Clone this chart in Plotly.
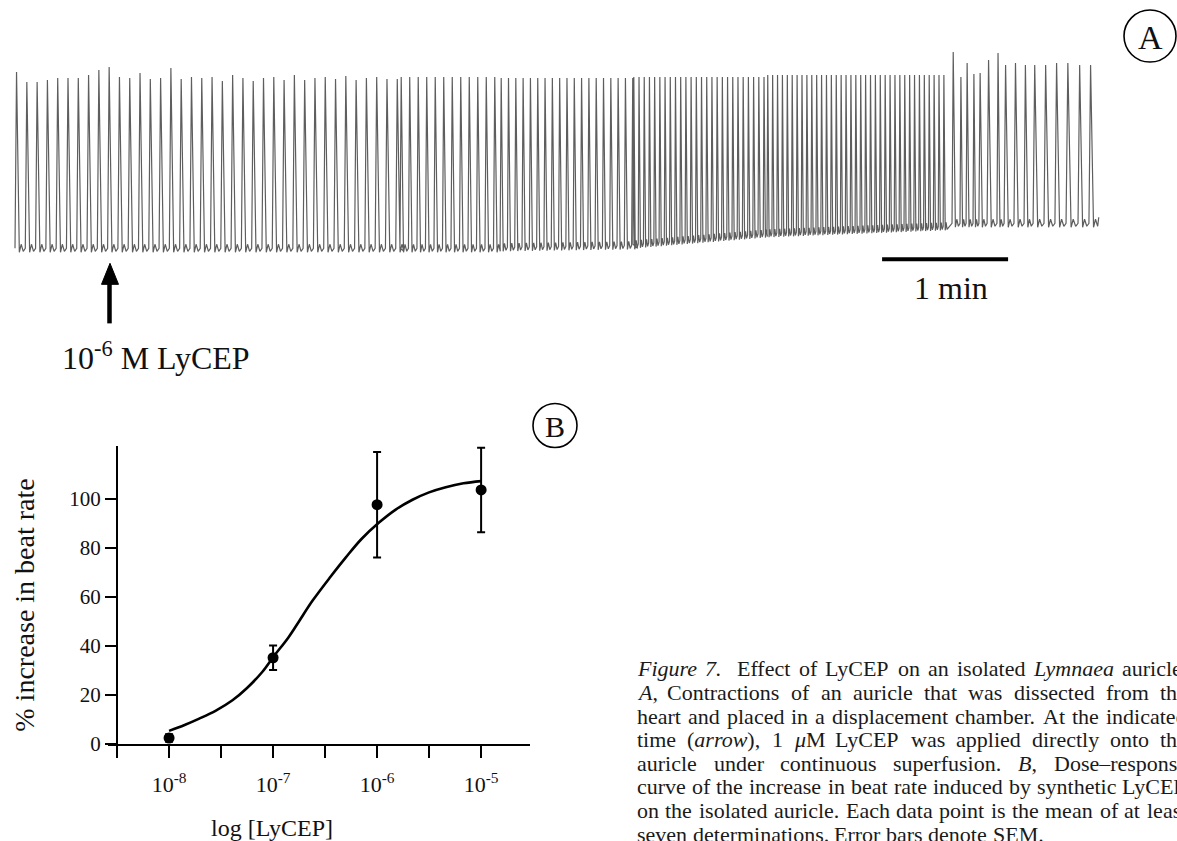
import plotly.graph_objects as go

W, H = 1177, 841
FONT = "Liberation Serif"


def px(x):
    return x / W


def py(y):
    return (H - y) / H


# ---------------- Panel A: recorded contractions ----------------
# regular-rhythm sections (time in s from start of record, level in arbitrary units)
sec_start_s = [0.0, 183.3, 231.0, 294.3, 358.1]
sec_end_s = [183.3, 231.0, 294.3, 358.1, 442.9]
sec_interval_s = [4.90, 4.05, 3.48, 2.48, 2.33]
sec_peak = [None, 193, 192, 193, 195]
sec_trough_start = [18, 18, 19, 22, 33]
sec_trough_end = [18, 18, 21, 33, 40]
# individual peak heights read for the first section
first_peaks = [198, 188, 188, 190, 192, 192, 192, 195, 200, 203, 193, 192, 197, 191,
               192, 202, 191, 193, 192, 193, 189, 195, 192, 189, 192, 193, 190, 195,
               190, 192, 193, 191, 194, 190, 192, 193, 191]
# late, slowing beats read individually
late_beat_s = [446.2, 450.0, 452.9, 456.2, 459.0, 462.9, 467.6, 471.0, 475.7, 480.5,
               484.8, 490.0, 495.2, 500.5, 506.2, 511.4]
late_peak = [218, 193, 207, 196, 197, 210, 217, 205, 207, 205, 205, 205, 207, 207, 205, 205]
late_trough = 43
scale_bar_s = [412.9, 472.9]   # 1 min
scale_bar_level = 11
drug_time_s = 45.0

# ---------------- Panel B: dose-response ----------------
dose_M = [1e-8, 1e-7, 1e-6, 1e-5]
mean_increase = [2.4, 35.1, 97.5, 103.5]
sem = [1.5, 5.0, 21.5, 17.2]
fit_M = [1.0e-8, 1.41e-8, 1.95e-8, 2.82e-8, 4.07e-8, 5.62e-8, 7.94e-8, 1.02e-7, 1.41e-7,
         1.78e-7, 2.40e-7, 3.55e-7, 5.01e-7, 7.08e-7, 1.05e-6, 1.51e-6, 2.19e-6, 3.16e-6,
         4.57e-6, 6.76e-6, 1.0e-5]
fit_val = [5.3, 7.7, 10.3, 13.6, 17.8, 22.8, 29.5, 35.8, 43.5, 50.0, 58.4, 68.0, 76.0,
           83.5, 90.3, 95.5, 99.5, 102.5, 104.6, 106.2, 107.1]
x_tickvals = [1e-8, 1e-7, 1e-6, 1e-5]
x_ticktext = ["10<sup>-8</sup>", "10<sup>-7</sup>", "10<sup>-6</sup>", "10<sup>-5</sup>"]
x_minor_tickvals = [10 ** -8.5, 10 ** -7.5, 10 ** -6.5, 10 ** -5.5]
y_tickvals = [0, 20, 40, 60, 80, 100]

caption_lines = [
    "*Figure 7.*  Effect of LyCEP on an isolated *Lymnaea* auricle.",
    "*A*, Contractions of an auricle that was dissected from the",
    "heart and placed in a displacement chamber. At the indicated",
    "time (*arrow*), 1 *μ*M LyCEP was applied directly onto the",
    "auricle under continuous superfusion. *B*, Dose–response",
    "curve of the increase in beat rate induced by synthetic LyCEP",
    "on the isolated auricle. Each data point is the mean of at least",
    "seven determinations. Error bars denote SEM.",
]

# ---------- build the contraction trace ----------
tx, ty = [], []
shape_pts = [(0.0, 4), (0.15, None), (0.42, 0), (0.6, 8), (0.8, 1)]


def add_beat(t0, interval, peak, trough):
    for f, dv in shape_pts:
        tx.append(t0 + f * interval)
        ty.append(peak if dv is None else trough + dv)


for s in range(len(sec_start_s)):
    t0 = sec_start_s[s]
    k = 0
    span = sec_end_s[s] - sec_start_s[s]
    while t0 < sec_end_s[s] - 1e-6:
        frac = (t0 - sec_start_s[s]) / span
        trough = sec_trough_start[s] + frac * (sec_trough_end[s] - sec_trough_start[s])
        if sec_peak[s] is None:
            peak = first_peaks[k] if k < len(first_peaks) else first_peaks[-1]
        else:
            peak = sec_peak[s]
        add_beat(t0, sec_interval_s[s], peak, trough)
        t0 += sec_interval_s[s]
        k += 1

for i, t0 in enumerate(late_beat_s):
    interval = (late_beat_s[i + 1] - t0) if i + 1 < len(late_beat_s) else (t0 - late_beat_s[i - 1])
    add_beat(t0, interval, late_peak[i], late_trough)
tx.append(late_beat_s[-1] + 0.9 * (late_beat_s[-1] - late_beat_s[-2]))
ty.append(late_trough + 10)

fig = go.Figure()

fig.add_trace(go.Scatter(x=tx, y=ty, mode="lines", line=dict(color="#5e5e5e", width=1.2),
                         hoverinfo="skip", showlegend=False, xaxis="x", yaxis="y"))

# panel B
fig.add_trace(go.Scatter(x=fit_M, y=fit_val, mode="lines", line=dict(color="black", width=2.6, shape="spline"),
                         showlegend=False, xaxis="x2", yaxis="y2"))
fig.add_trace(go.Scatter(x=dose_M, y=mean_increase, mode="markers",
                         marker=dict(color="black", size=11),
                         error_y=dict(type="data", array=sem, color="black", thickness=2, width=4),
                         showlegend=False, xaxis="x2", yaxis="y2"))

# ---------- caption (justified, word by word) ----------
ROMAN = {' ': 250, '%': 833, '(': 333, ')': 333, ',': 250, '-': 333, '.': 250, '[': 333, ']': 333,
         '–': 500, 'μ': 576,
         'A': 722, 'B': 667, 'C': 667, 'D': 722, 'E': 611, 'F': 556, 'G': 722, 'H': 722, 'I': 333,
         'J': 389, 'K': 722, 'L': 611, 'M': 889, 'N': 722, 'O': 722, 'P': 556, 'Q': 722, 'R': 667,
         'S': 556, 'T': 611, 'U': 722, 'V': 722, 'W': 944, 'X': 722, 'Y': 722, 'Z': 611,
         'a': 444, 'b': 500, 'c': 444, 'd': 500, 'e': 444, 'f': 333, 'g': 500, 'h': 500, 'i': 278,
         'j': 278, 'k': 500, 'l': 278, 'm': 778, 'n': 500, 'o': 500, 'p': 500, 'q': 500, 'r': 333,
         's': 389, 't': 278, 'u': 500, 'v': 500, 'w': 722, 'x': 500, 'y': 500, 'z': 444}
for d in "0123456789":
    ROMAN[d] = 500
ITALIC = dict(ROMAN)
ITALIC.update({'A': 611, 'B': 611, 'F': 611, 'L': 556, 'a': 500, 'r': 389, 'w': 667, 'y': 444,
               'm': 722, 'μ': 500})

CAP_SIZE = 22
CAP_LEFT, CAP_RIGHT = 636, 1186
CAP_Y0, CAP_DY = 668, 23.6

annotations = []
for li, line in enumerate(caption_lines):
    italic = False
    words, cur = [], []
    for ch in line:
        if ch == '*':
            italic = not italic
        elif ch == ' ':
            words.append(cur)
            cur = []
        else:
            cur.append((ch, italic))
    words.append(cur)
    items, weights, pending = [], [], 0
    for w in words:
        if not w:
            pending += 1
            continue
        if items:
            weights.append(1 + pending)
        pending = 0
        items.append(w)
    widths = [sum((ITALIC if it else ROMAN).get(c, 500) for c, it in w) * CAP_SIZE / 1000 for w in items]
    if li < len(caption_lines) - 1:
        unit = (CAP_RIGHT - CAP_LEFT - sum(widths)) / sum(weights)
    else:
        unit = 250 * CAP_SIZE / 1000
    xpos = CAP_LEFT
    for wi, w in enumerate(items):
        html = ""
        for c, it in w:
            html += f"<i>{c}</i>" if it else c
        html = html.replace("</i><i>", "")
        annotations.append(dict(text=html, x=px(xpos), y=py(CAP_Y0 + li * CAP_DY), xref="paper", yref="paper",
                                xanchor="left", yanchor="middle", showarrow=False, borderpad=0,
                                font=dict(family=FONT, size=CAP_SIZE, color="#1a1a1a")))
        xpos += widths[wi]
        if wi < len(weights):
            xpos += unit * weights[wi]

# other texts
others = [
    dict(text="10<sup>-6</sup> M LyCEP", x=px(60), y=py(356), xanchor="left", yanchor="middle",
         font=dict(family=FONT, size=32, color="#111")),
    dict(text="1 min", x=px(951), y=py(288), xanchor="center", yanchor="middle",
         font=dict(family=FONT, size=32, color="#111")),
    dict(text="A", x=px(1150), y=py(37), xanchor="center", yanchor="middle",
         font=dict(family=FONT, size=34, color="#111")),
    dict(text="B", x=px(555), y=py(426), xanchor="center", yanchor="middle",
         font=dict(family=FONT, size=30, color="#111")),
    dict(text="% increase in beat rate", x=px(25), y=py(605), textangle=-90, xanchor="center", yanchor="middle",
         font=dict(family=FONT, size=28, color="#111")),
    dict(text="log [LyCEP]", x=px(272), y=py(827), xanchor="center", yanchor="middle",
         font=dict(family=FONT, size=24, color="#111")),
]
for a in others:
    a.update(xref="paper", yref="paper", showarrow=False)
annotations += others

shapes = [
    # scale bar (1 min)
    dict(type="line", xref="x", yref="y", x0=scale_bar_s[0], x1=scale_bar_s[1],
         y0=scale_bar_level, y1=scale_bar_level, line=dict(color="black", width=4)),
    # arrow shaft and head marking drug application
    dict(type="line", xref="x", yref="paper", x0=drug_time_s, x1=drug_time_s, y0=py(323), y1=py(280),
         line=dict(color="black", width=4.5)),
    dict(type="path", xref="paper", yref="paper",
         path=f"M {px(101.5)} {py(284)} L {px(118.5)} {py(284)} L {px(110)} {py(263)} Z",
         fillcolor="black", line=dict(color="black", width=1)),
    # panel labels in circles
    dict(type="circle", xref="paper", yref="paper", x0=px(1124), x1=px(1176), y0=py(62), y1=py(10),
         line=dict(color="black", width=1.6)),
    dict(type="circle", xref="paper", yref="paper", x0=px(533), x1=px(577), y0=py(447), y1=py(403),
         line=dict(color="black", width=1.6)),
]

fig.update_layout(
    width=W - 16, height=H - 16, margin=dict(l=0, r=0, t=0, b=0),
    paper_bgcolor="white", plot_bgcolor="rgba(0,0,0,0)",
    font=dict(family=FONT, color="#111"),
    showlegend=False,
    xaxis=dict(domain=[0, 1], range=[-15 / 2.1, 1162 / 2.1], visible=False, fixedrange=True),
    yaxis=dict(domain=[py(270), py(40)], range=[0, 230], visible=False, fixedrange=True),
    xaxis2=dict(domain=[px(108), px(530)], type="log", range=[-8.587, -4.53], anchor="y2",
                tickvals=x_tickvals, ticktext=x_ticktext, ticks="outside", ticklen=12, tickwidth=2,
                tickcolor="black", showline=True, linewidth=2, linecolor="black", showgrid=False,
                zeroline=False, ticklabelstandoff=8,
                minor=dict(tickvals=x_minor_tickvals, ticks="outside", ticklen=12, tickwidth=2,
                           tickcolor="black", showgrid=False),
                tickfont=dict(family=FONT, size=22, color="#111")),
    yaxis2=dict(domain=[py(743), py(445)], range=[0, 121.6], anchor="free", position=px(117),
                tickvals=y_tickvals, ticks="outside", ticklen=11, tickwidth=2, tickcolor="black",
                showline=True, linewidth=2, linecolor="black", showgrid=False, zeroline=False,
                tickfont=dict(family=FONT, size=21, color="#111")),
    annotations=annotations,
    shapes=shapes,
)

# the captured picture comes out slightly taller than the window, so the
# figure is grown to that height; all positions are fractions of the page
HF = 854
post = (
    "var de=document.documentElement, bd=document.body;"
    f"de.style.margin='0'; de.style.padding='0'; de.style.height='{HF}px'; de.style.overflow='hidden';"
    f"bd.style.margin='0'; bd.style.padding='0'; bd.style.height='{HF}px'; bd.style.overflow='hidden';"
    "var gd=document.getElementById('{plot_id}');"
    "gd.style.display='block';"
    f"return Plotly.relayout(gd,{{width:{W},height:{HF}}});"
)
fig.write_html("out.html", config={"displayModeBar": False}, post_script=post)
